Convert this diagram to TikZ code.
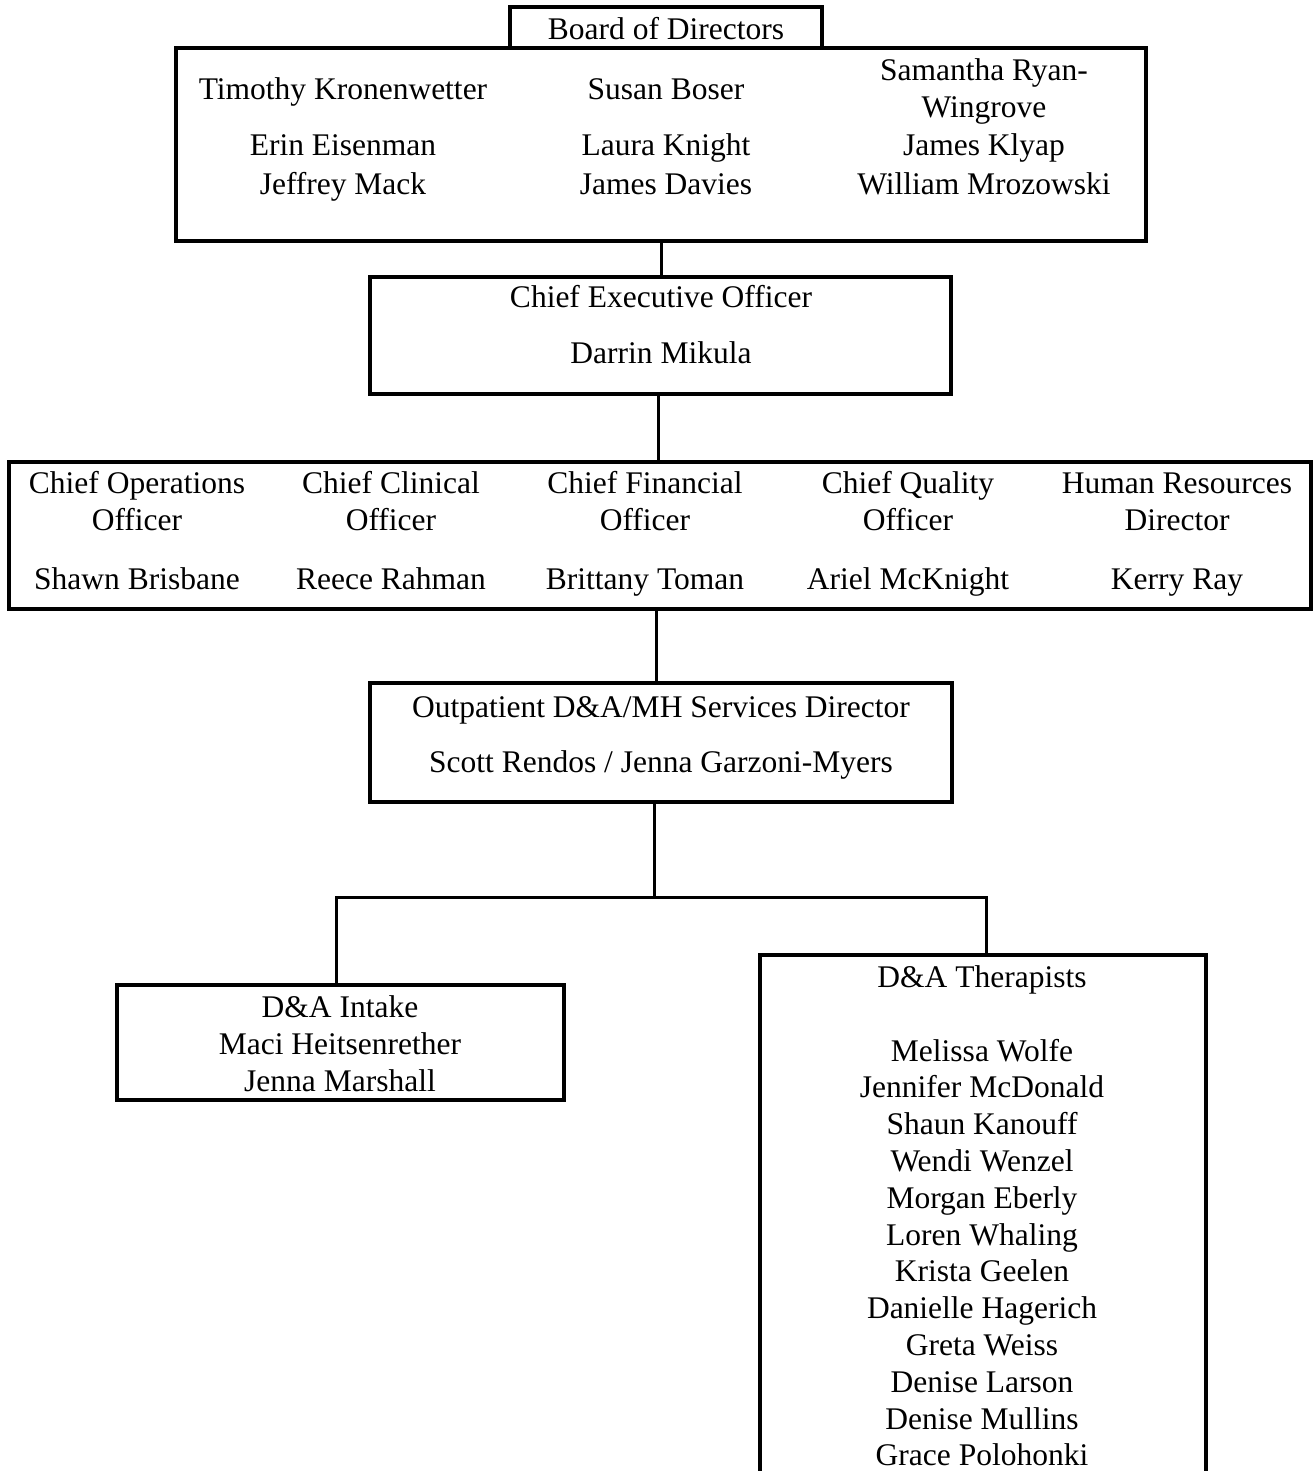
\documentclass[tikz,border=0pt]{standalone}
\usepackage{fontspec}
\setmainfont{Liberation Serif}
\begin{document}
\begin{tikzpicture}[x=1pt,y=-1pt,
  box/.style={draw,line width=3.5pt,inner sep=0pt,outer sep=0pt},
  conn/.style={line width=3pt},
  txt/.style={anchor=base,inner sep=0pt,font=\fontsize{31.5}{37}\selectfont}]
\useasboundingbox (0,0) rectangle (1314,1471);
\clip (0,0) rectangle (1314,1471);
% boxes
\node[box,minimum width=312pt,minimum height=41pt] (bodtitle) at (666,27.5) {};
\node[box,minimum width=970pt,minimum height=193pt] (board) at (661,144.5) {};
\node[box,minimum width=581pt,minimum height=117pt] (ceo) at (660.5,335.5) {};
\node[box,minimum width=1302pt,minimum height=147pt] (officers) at (660,535.5) {};
\node[box,minimum width=582pt,minimum height=119pt] (outp) at (661,742.5) {};
\node[box,minimum width=447pt,minimum height=115pt] (intake) at (340.5,1042.5) {};
\node[box,minimum width=446pt,minimum height=560pt] (ther) at (983,1235) {};
% connectors
\coordinate (fork) at (654,897);
\draw[conn] (board.south) -- (board.south |- ceo.north);
\draw[conn] ([xshift=-2pt]ceo.south) -- ([xshift=-2pt]ceo.south |- officers.north);
\draw[conn] ([xshift=-4pt]officers.south) -- ([xshift=-4pt]officers.south |- outp.north);
\draw[conn] ([xshift=-7pt]outp.south) -- ([xshift=-7pt]outp.south |- fork);
\draw[conn] ([xshift=-4pt]intake.north) -- ([xshift=-4pt]intake.north |- fork) -- ([xshift=3pt]ther.north |- fork) -- ([xshift=3pt]ther.north);
% board text
\node[txt] (b0) at (666,40) {Board of Directors};
\node[txt] (b1) at (343,100) {Timothy Kronenwetter};
\node[txt] (b2) at (666,100) {Susan Boser};
\node[txt] (b3) at (984,81) {Samantha Ryan-};
\node[txt] (b4) at (984,118) {Wingrove};
\node[txt] (b5) at (343,156) {Erin Eisenman};
\node[txt] (b6) at (666,156) {Laura Knight};
\node[txt] (b7) at (984,156) {James Klyap};
\node[txt] (b8) at (343,195) {Jeffrey Mack};
\node[txt] (b9) at (666,195) {James Davies};
\node[txt] (b10) at (984,195) {William Mrozowski};
% ceo
\node[txt] (c1) at (661,307) {Chief Executive Officer};
\node[txt] (c2) at (661,363) {Darrin Mikula};
% officers
\node[txt] (o1a) at (137,493) {Chief Operations};
\node[txt] (o1b) at (137,530) {Officer};
\node[txt] (o1c) at (137,589) {Shawn Brisbane};
\node[txt] (o2a) at (391,493) {Chief Clinical};
\node[txt] (o2b) at (391,530) {Officer};
\node[txt] (o2c) at (391,589) {Reece Rahman};
\node[txt] (o3a) at (645,493) {Chief Financial};
\node[txt] (o3b) at (645,530) {Officer};
\node[txt] (o3c) at (645,589) {Brittany Toman};
\node[txt] (o4a) at (908,493) {Chief Quality};
\node[txt] (o4b) at (908,530) {Officer};
\node[txt] (o4c) at (908,589) {Ariel McKnight};
\node[txt] (o5a) at (1177,493) {Human Resources};
\node[txt] (o5b) at (1177,530) {Director};
\node[txt] (o5c) at (1177,589) {Kerry Ray};
% outpatient
\node[txt] (p1) at (661,717) {Outpatient D\&A/MH Services Director};
\node[txt] (p2) at (661,772) {Scott Rendos / Jenna Garzoni-Myers};
% intake
\node[txt] (i1) at (340,1017) {D\&A Intake};
\node[txt] (i2) at (340,1054) {Maci Heitsenrether};
\node[txt] (i3) at (340,1091) {Jenna Marshall};
% therapists
\node[txt] (th0) at (982,987) {D\&A Therapists};
\foreach \n [count=\i from 0] in {Melissa Wolfe,Jennifer McDonald,Shaun Kanouff,Wendi Wenzel,Morgan Eberly,Loren Whaling,Krista Geelen,Danielle Hagerich,Greta Weiss,Denise Larson,Denise Mullins,Grace Polohonki}
  \node[txt] (th\i) at (982,1061+36.8*\i) {\n};
\end{tikzpicture}
\end{document}
